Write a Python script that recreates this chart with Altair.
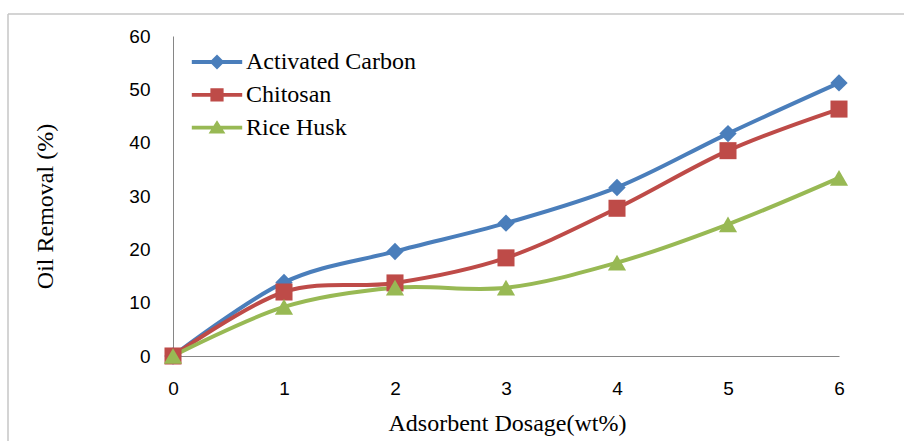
import altair as alt
import pandas as pd

# ---- data ----
dosage = [0, 1, 2, 3, 4, 5, 6]
activated_carbon = [0, 13.8, 19.6, 24.9, 31.6, 41.7, 51.2]
chitosan = [0, 12.0, 13.7, 18.4, 27.7, 38.5, 46.3]
rice_husk = [0, 9.2, 12.8, 12.8, 17.5, 24.7, 33.4]
series_names = ["Activated Carbon", "Chitosan", "Rice Husk"]
series_colors = ["#4A7EBB", "#BE4B48", "#98B954"]
series_shapes = ["diamond", "square", "triangle-up"]
x_ticks = [0, 1, 2, 3, 4, 5, 6]
y_ticks = [0, 10, 20, 30, 40, 50, 60]

rows = []
for k, (name, vals) in enumerate(zip(series_names, [activated_carbon, chitosan, rice_husk])):
    for d, v in zip(dosage, vals):
        rows.append({"series": name, "dosage": d, "removal": v, "k": k})
df = pd.DataFrame(rows)

W, H = 666, 320
PL, PT, PR, PB = 173, 36, 65, 85

# legend symbols: line segment + marker as one filled path
leg_paths = [
    "M-2.1,-0.16H2.1V0.16H-2.1Z M0,-0.62L0.62,0L0,0.62L-0.62,0Z",
    "M-2.1,-0.16H2.1V0.16H-2.1Z M-0.55,-0.55H0.55V0.55H-0.55Z",
    "M-2.1,-0.16H2.1V0.16H-2.1Z M0,-0.62L0.7,0.5L-0.7,0.5Z",
]

color_scale = alt.Scale(domain=series_names, range=series_colors)
x_enc = alt.X("dosage:Q", scale=alt.Scale(domain=[0, 6], nice=False),
              axis=alt.Axis(values=x_ticks, title="Adsorbent Dosage(wt%)", format="d",
                            labelFlush=False,
                            titleX=W / 2 + 1, titleY=67, titleBaseline="middle"))
y_enc = alt.Y("removal:Q", scale=alt.Scale(domain=[0, 60], nice=False),
              axis=alt.Axis(values=y_ticks, title="Oil Removal (%)", labelFlush=False,
                            titleX=-128, titleY=H / 2 + 10, titleAngle=-90,
                            titleAlign="center", titleBaseline="middle"))

legend = alt.Legend(
    orient="none", legendX=32, legendY=14, title=None, padding=0,
    symbolSize=576, labelOffset=17, rowPadding=8.8, labelLimit=0,
    labelFont="Liberation Serif", labelFontSize=24, labelColor="black",
    symbolStrokeWidth=0, symbolOpacity=1,
)

base = alt.Chart(df)
lines = base.mark_line(interpolate="cardinal", strokeWidth=4).encode(
    x=x_enc, y=y_enc,
    color=alt.Color("series:N", scale=color_scale, legend=legend, sort=series_names),
    detail="series:N",
    order="dosage:Q",
)

point_layers = []
for name, shp, sz in zip(series_names, series_shapes, [300, 290, 330]):
    point_layers.append(
        base.transform_filter(alt.datum.series == name).mark_point(
            filled=True, opacity=1, size=sz, shape=shp, strokeWidth=0
        ).encode(
            x=x_enc, y=y_enc,
            color=alt.Color("series:N", scale=color_scale, legend=legend, sort=series_names),
        )
    )

# empty layer only carrying the legend symbols (line + marker)
legend_layer = base.transform_filter("false").mark_point(filled=True, opacity=1).encode(
    x=x_enc, y=y_enc,
    color=alt.Color("series:N", scale=color_scale, legend=legend, sort=series_names),
    shape=alt.Shape("series:N", scale=alt.Scale(domain=series_names, range=leg_paths),
                    legend=legend, sort=series_names),
)

frame_df = pd.DataFrame({"a": [0]})
top_border = alt.Chart(frame_df).mark_rule(color="#C6C6C6", strokeWidth=1.5).encode(
    x=alt.value(8 - PL), x2=alt.value(904 - PL), y=alt.value(14 - PT))
left_border = alt.Chart(frame_df).mark_rule(color="#C6C6C6", strokeWidth=1.5).encode(
    x=alt.value(8 - PL), y=alt.value(14 - PT), y2=alt.value(441 - PT))

chart = alt.layer(top_border, left_border, lines, *point_layers, legend_layer).properties(
    width=W, height=H,
    autosize=alt.AutoSizeParams(type="none"),
    padding={"left": PL, "top": PT, "right": PR, "bottom": PB},
    background="white",
).configure_view(stroke=None).configure_axis(
    grid=False, ticks=False, tickSize=0,
    domainColor="#868686", domainWidth=1,
    labelFont="Liberation Sans", labelFontSize=19, labelColor="black", labelPadding=23,
    titleFont="Liberation Serif", titleFontSize=24, titleFontWeight="normal", titleColor="black",
)

chart.save("out.html", embed_options={"renderer": "svg", "actions": False})
